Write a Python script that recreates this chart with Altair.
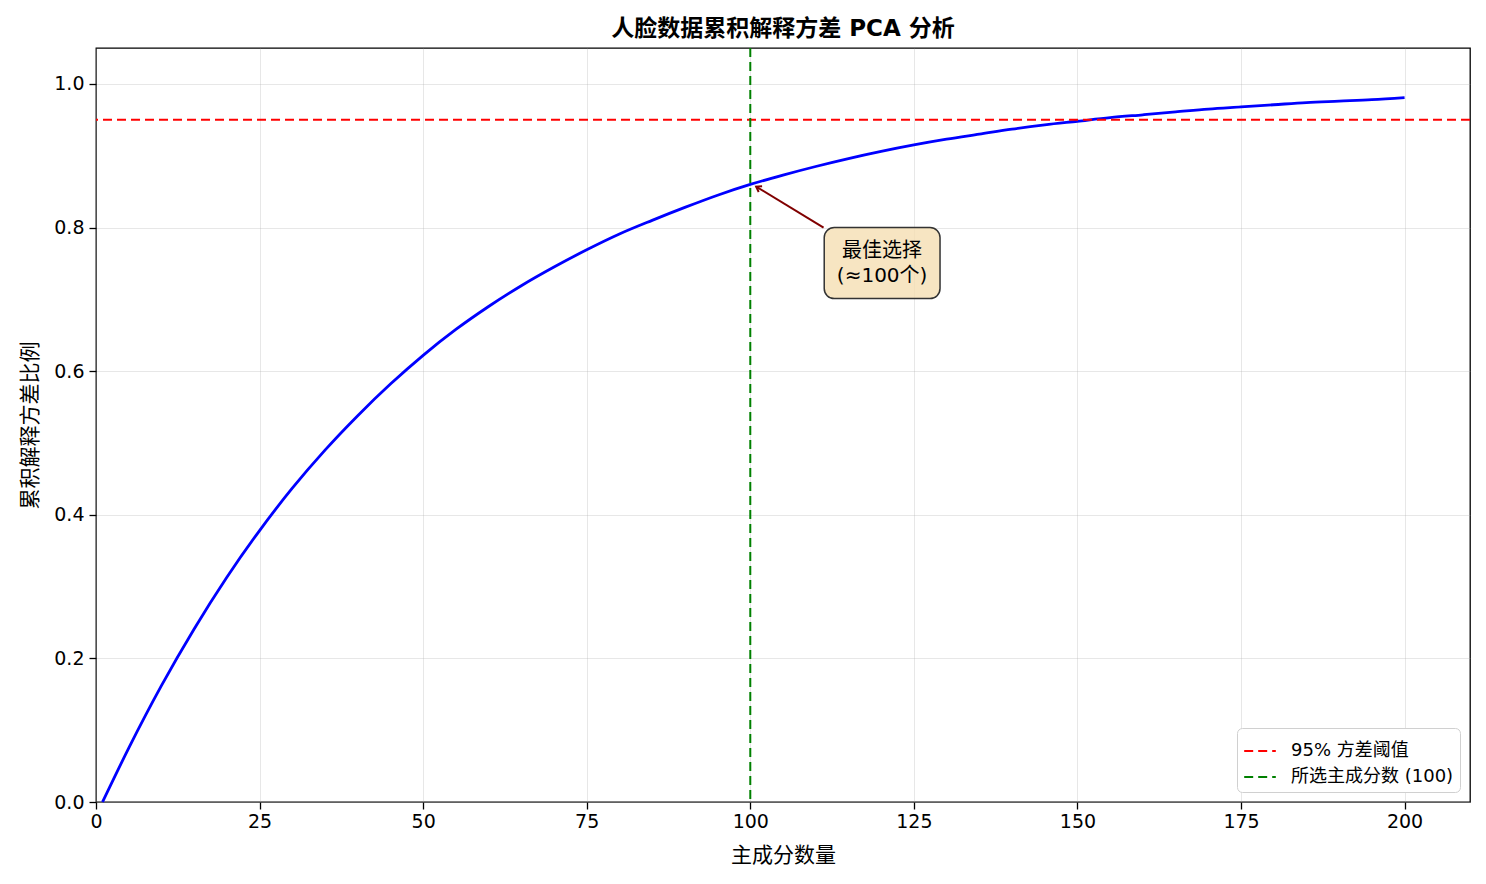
import altair as alt
import pandas as pd

# ---- data ----
components = [1, 5, 10, 15, 20, 25, 30, 35, 40, 45, 50, 55, 60, 65, 70, 75, 80, 85, 90, 95,
              100, 105, 110, 115, 120, 125, 130, 135, 140, 145, 150, 155, 160, 165, 170,
              175, 180, 185, 190, 195, 200]
cum_var = [0.000, 0.075, 0.162, 0.241, 0.313, 0.378, 0.437, 0.490, 0.538, 0.582, 0.622,
           0.658, 0.690, 0.719, 0.745, 0.769, 0.791, 0.810, 0.828, 0.845, 0.860, 0.873,
           0.885, 0.896, 0.906, 0.915, 0.923, 0.930, 0.937, 0.943, 0.948, 0.953, 0.957,
           0.961, 0.965, 0.968, 0.971, 0.974, 0.976, 0.978, 0.981]
threshold = 0.95
chosen = 100
legend_labels = ["95% 方差阈值", "所选主成分数 (100)"]
legend_colors = ["#ff0000", "#008000"]
x_ticks = [0, 25, 50, 75, 100, 125, 150, 175, 200]
y_ticks = [0.0, 0.2, 0.4, 0.6, 0.8, 1.0]
annot_lines = ["最佳选择", "(≈100个)"]

FONT = "DejaVu Sans, Noto Sans CJK SC"

curve = pd.DataFrame({"k": components, "v": cum_var})

xs = alt.Scale(domain=[0, 210], nice=False, zero=False)
ys = alt.Scale(domain=[0, 1.05], nice=False, zero=False)
xax = alt.Axis(values=x_ticks, title="主成分数量", format="d", labelFontSize=19,
               labelFont=FONT, tickSize=7, labelPadding=3, titlePadding=13,
               labelFlush=False)
yax = alt.Axis(values=y_ticks, title="累积解释方差比例", format=".1f", labelFontSize=19,
               labelFont=FONT, tickSize=7, labelPadding=5, titlePadding=13,
               labelFlush=False)

color_scale = alt.Scale(domain=legend_labels, range=legend_colors)
legend = alt.Legend(title=None, orient="bottom-right", symbolType="stroke",
                    symbolDash=[9, 5], symbolStrokeWidth=2, symbolSize=1000,
                    labelFontSize=18, labelFont=FONT, labelColor="black",
                    fillColor="white", strokeColor="#d0d0d0", cornerRadius=5,
                    padding=6, offset=10, rowPadding=0, labelOffset=14, labelLimit=400)

line = alt.Chart(curve).mark_line(color="#0000ff", strokeWidth=2.8, interpolate="monotone").encode(
    x=alt.X("k:Q", scale=xs, axis=xax),
    y=alt.Y("v:Q", scale=ys, axis=yax),
)

hrule = alt.Chart(pd.DataFrame({"y": [threshold], "s": [legend_labels[0]]})).mark_rule(
    strokeDash=[9, 5], strokeWidth=2).encode(
    y=alt.Y("y:Q", scale=ys),
    color=alt.Color("s:N", scale=color_scale, legend=legend),
)

vrule = alt.Chart(pd.DataFrame({"x": [chosen], "s": [legend_labels[1]]})).mark_rule(
    strokeDash=[9, 5], strokeWidth=2).encode(
    x=alt.X("x:Q", scale=xs),
    color=alt.Color("s:N", scale=color_scale, legend=legend),
)

# annotation arrow
arrow_df = pd.DataFrame({"x": [111.2], "y": [0.800], "x2": [100.9], "y2": [0.857]})
arrow_line = alt.Chart(arrow_df).mark_rule(color="#800000", strokeWidth=2).encode(
    x=alt.X("x:Q", scale=xs), y=alt.Y("y:Q", scale=ys), x2="x2:Q", y2="y2:Q")
arrow_head = alt.Chart(arrow_df).mark_point(
    shape="M -0.6 0.9 L 0 0 L 0.6 0.9", filled=False, color="#800000", strokeWidth=2,
    size=120, angle=301, opacity=1).encode(
    x=alt.X("x2:Q", scale=xs), y=alt.Y("y2:Q", scale=ys))

box_df = pd.DataFrame({"x": [111.3], "x2": [129.0], "y": [0.800], "y2": [0.701]})
box = alt.Chart(box_df).mark_rect(fill="#f5deb3", fillOpacity=0.8, stroke="#333333",
                                  strokeWidth=1.5, cornerRadius=10).encode(
    x=alt.X("x:Q", scale=xs), x2="x2:Q", y=alt.Y("y:Q", scale=ys), y2="y2:Q")

text_df = pd.DataFrame({"x": [120.15], "y": [0.7674], "t": [annot_lines]})
box_text = alt.Chart(text_df).mark_text(fontSize=20, font=FONT, color="black",
                                        lineHeight=25, align="center", baseline="middle").encode(
    x=alt.X("x:Q", scale=xs), y=alt.Y("y:Q", scale=ys), text="t")

chart = alt.layer(line, hrule, vrule, arrow_line, arrow_head, box, box_text).properties(
    width=1374, height=754,
    title=alt.TitleParams("人脸数据累积解释方差 PCA 分析", fontSize=23, font=FONT,
                          fontWeight="bold", anchor="middle", offset=6, color="black"),
    autosize=alt.AutoSizeParams(type="none"),
    padding={"left": 96, "top": 48, "right": 16, "bottom": 82},
).configure_view(stroke="black", strokeWidth=1.3).configure_axis(
    grid=True, gridColor="#b0b0b0", gridOpacity=0.3, gridWidth=1,
    domain=False, tickColor="black", tickWidth=1.3,
    labelColor="black",
    titleFontSize=21, titleFont=FONT, titleFontWeight="normal", titleColor="black",
)

chart.save("out.html", embed_options={"renderer": "svg", "actions": False})
